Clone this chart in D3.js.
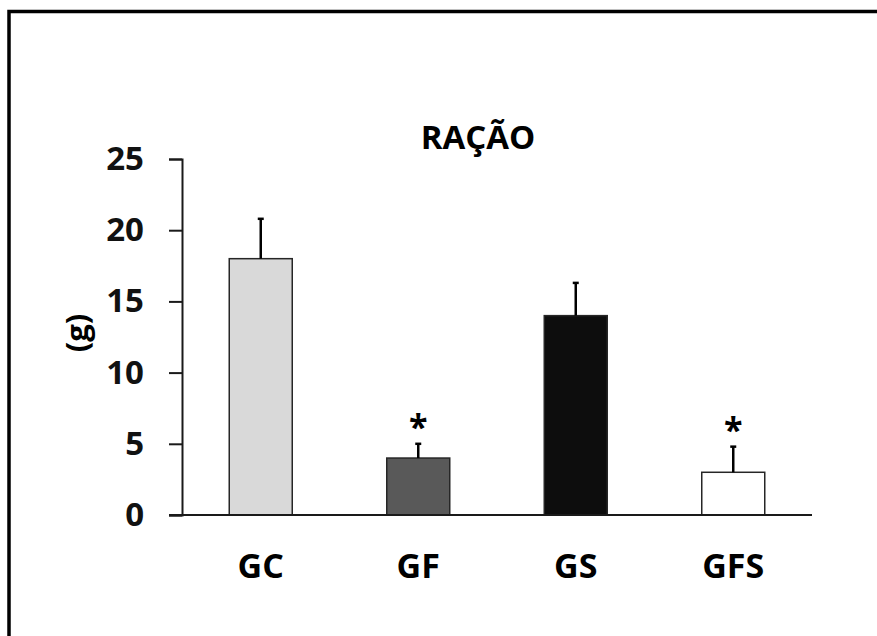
<!DOCTYPE html>
<html>
<head>
<meta charset="utf-8">
<script src="https://cdn.jsdelivr.net/npm/d3@7"></script>
<style>
  html, body { margin: 0; background: #fff; overflow: hidden; }
  svg { display: block; }
  text { font-family: "Open Sans", "DejaVu Sans", sans-serif; font-weight: bold; }
</style>
</head>
<body>
<svg id="chart"></svg>
<script>
var groups = ['GC', 'GF', 'GS', 'GFS']
var means = [18, 4, 14, 3]
var errors = [2.8, 1, 2.3, 1.8]
var signif = [false, true, false, true]
var yTicks = [0, 5, 10, 15, 20, 25]
var barColors = ['#d9d9d9', '#595959', '#0d0d0d', '#ffffff']

var width = 877, height = 636
var svg = d3.select('#chart')
    .attr('width', width)
    .attr('height', height)

// frame around the figure: only the top and left edges are in the picture
svg.append('path')
    .attr('d', 'M9,' + (height + 10) + 'V11.5H' + (width + 10))
    .attr('fill', 'none')
    .attr('stroke', '#000')
    .attr('stroke-width', 3.5)

var plotLeft = 182, plotRight = 812, plotTop = 159, plotBottom = 515

var x = d3.scaleBand()
    .domain(groups)
    .range([plotLeft, plotRight])
    .paddingInner(0.6)
    .paddingOuter(0.3)

var y = d3.scaleLinear()
    .domain([0, 25])
    .range([plotBottom, plotTop])

// title
svg.append('text')
    .attr('x', 478).attr('y', 149)
    .attr('text-anchor', 'middle')
    .style('font-size', '33px')
    .text('RAÇÃO')

// bars
svg.selectAll('rect.bar')
    .data(means)
    .enter()
    .append('rect')
    .attr('class', 'bar')
    .attr('x', function (d, i) { return x(groups[i]) })
    .attr('y', function (d) { return y(d) })
    .attr('width', x.bandwidth())
    .attr('height', function (d) { return y(0) - y(d) })
    .attr('fill', function (d, i) { return barColors[i] })
    .attr('stroke', '#262626')
    .attr('stroke-width', 1.5)

// error bars
var eb = svg.selectAll('g.err')
    .data(means)
    .enter()
    .append('g')
    .attr('class', 'err')
eb.append('line')
    .attr('x1', function (d, i) { return x(groups[i]) + x.bandwidth() / 2 })
    .attr('x2', function (d, i) { return x(groups[i]) + x.bandwidth() / 2 })
    .attr('y1', function (d) { return y(d) })
    .attr('y2', function (d, i) { return y(d + errors[i]) })
    .attr('stroke', '#000')
    .attr('stroke-width', 2.5)
eb.append('line')
    .attr('x1', function (d, i) { return x(groups[i]) + x.bandwidth() / 2 - 3 })
    .attr('x2', function (d, i) { return x(groups[i]) + x.bandwidth() / 2 + 3 })
    .attr('y1', function (d, i) { return y(d + errors[i]) })
    .attr('y2', function (d, i) { return y(d + errors[i]) })
    .attr('stroke', '#000')
    .attr('stroke-width', 2.5)

// asterisks
groups.forEach(function (g, i) {
    if (!signif[i]) return
    svg.append('text')
        .attr('class', 'star')
        .attr('x', x(g) + x.bandwidth() / 2)
        .attr('y', y(means[i] + errors[i]) - 5)
        .attr('text-anchor', 'middle')
        .style('font-size', '34px')
        .text('*')
})

// y axis
var yAxis = svg.append('g')
    .attr('transform', 'translate(' + plotLeft + ',0)')
    .call(d3.axisLeft(y).tickValues(yTicks).tickSize(13).tickPadding(25))
yAxis.select('.domain').attr('stroke', '#1a1a1a').attr('stroke-width', 2)
yAxis.selectAll('.tick line').attr('stroke', '#1a1a1a').attr('stroke-width', 2)
yAxis.selectAll('.tick text')
    .attr('fill', '#111')
    .style('font-size', '33px')
    .style('font-family', '"Open Sans", sans-serif')
    .style('font-weight', 'bold')

// x axis line
svg.append('line')
    .attr('x1', plotLeft - 13).attr('x2', plotRight)
    .attr('y1', y(0)).attr('y2', y(0))
    .attr('stroke', '#1a1a1a')
    .attr('stroke-width', 2)

// category labels
svg.selectAll('text.cat')
    .data(groups)
    .enter()
    .append('text')
    .attr('class', 'cat')
    .attr('x', function (d) { return x(d) + x.bandwidth() / 2 })
    .attr('y', 578)
    .attr('text-anchor', 'middle')
    .style('font-size', '34px')
    .text(function (d) { return d })

// y label
svg.append('text')
    .attr('transform', 'translate(88,333) rotate(-90)')
    .attr('text-anchor', 'middle')
    .style('font-size', '31px')
    .text('(g)')
</script>
</body>
</html>
